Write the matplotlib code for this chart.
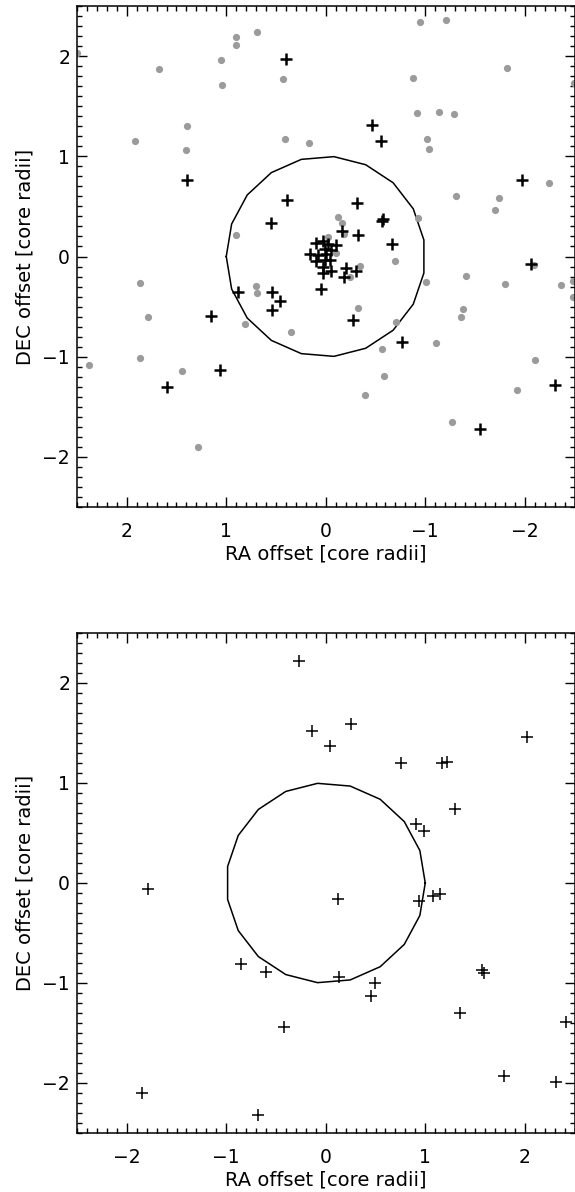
import numpy as np
import matplotlib
matplotlib.use("Agg")
import matplotlib.pyplot as plt
from matplotlib.ticker import MultipleLocator, FuncFormatter

plt.rcParams['font.family'] = ['DejaVu Sans']

# ---- Top panel data ----
top_gray_ra = [2.50, 1.674, 0.907, 0.897, 0.686, 1.054, 0.432, 1.041, 1.399, 1.921, 1.406, 0.405, 0.171, 0.897,
               -0.947, -1.205, -1.817, -2.49, -0.88, -0.92, -1.142, -1.285, -1.017, -1.034, -2.239, -1.312,
               -1.744, -1.70, -0.924, -0.124, -0.167, -0.184, -0.02, -0.107, -0.693,
               1.864, 1.79, 1.867, 2.376, 1.443, 1.282, 0.703, 0.686, 0.81, 0.351,
               -0.341, -0.241, -1.011, -1.406, -1.804, -2.092, -2.36, -2.483, -2.483, -0.321, -1.383,
               -1.355, -0.703, -1.111, -0.569, -2.102, -0.586, -0.395, -1.925, -1.272]
top_gray_dec = [2.03, 1.873, 2.19, 2.113, 2.243, 1.963, 1.767, 1.713, 1.307, 1.15, 1.063, 1.177, 1.133, 0.217,
                2.343, 2.363, 1.877, 1.727, 1.777, 1.433, 1.44, 1.427, 1.177, 1.07, 0.733, 0.603,
                0.58, 0.467, 0.383, 0.39, 0.33, 0.227, 0.19, 0.037, -0.04,
                -0.26, -0.60, -1.013, -1.087, -1.143, -1.903, -0.293, -0.36, -0.67, -0.753,
                -0.097, -0.20, -0.253, -0.19, -0.273, -0.08, -0.287, -0.24, -0.407, -0.51, -0.527,
                -0.607, -0.657, -0.867, -0.927, -1.03, -1.193, -1.38, -1.33, -1.647]

top_plus_ra = [0.395, 1.399, 0.392, 0.552,
               -0.465, -0.555, -1.968, -0.314, -0.575, -0.562, -0.161, -0.324, -0.67,
               0.88, 0.539, 0.459, 0.542, 1.152, 1.061, 1.593, 0.05,
               -2.058, -0.274, -0.766, -2.306, -1.549,
               0.10, 0.027, -0.023, -0.10, 0.01, -0.057, 0.154, 0.077, -0.007, 0.093, 0.01,
               -0.047, 0.027, -0.057, 0.027, -0.208, -0.308, -0.181]
top_plus_dec = [1.967, 0.763, 0.567, 0.333,
                1.317, 1.15, 0.763, 0.533, 0.37, 0.353, 0.253, 0.213, 0.123,
                -0.357, -0.35, -0.443, -0.537, -0.597, -1.13, -1.30, -0.32,
                -0.073, -0.63, -0.85, -1.287, -1.723,
                0.133, 0.153, 0.12, 0.11, 0.077, 0.06, 0.027, 0.01, 0.02, -0.047, -0.033,
                -0.033, -0.107, -0.147, -0.167, -0.113, -0.14, -0.20]

# ---- Bottom panel data ----
bot_plus_ra = [-0.271, -0.134, 0.251, 0.047, 0.753, 1.171, 1.218, 2.018, 1.302, 0.904, 0.987,
               -1.787, -0.853, -0.605, -0.419, -1.844, -0.68,
               0.124, 0.937, 1.077, 1.145, 0.134, 0.492, 0.452, 1.569, 1.586, 1.345, 2.41, 1.79, 2.316]
bot_plus_dec = [2.22, 1.52, 1.587, 1.373, 1.197, 1.203, 1.213, 1.463, 0.74, 0.59, 0.523,
                -0.063, -0.807, -0.887, -1.443, -2.103, -2.32,
                -0.163, -0.177, -0.13, -0.11, -0.943, -1.003, -1.13, -0.87, -0.897, -1.303, -1.387, -1.927, -1.987]

core_radius = 1.0
n_circle = 20

xlabel = "RA offset [core radii]"
ylabel = "DEC offset [core radii]"

W, H = 575, 1192
fig = plt.figure(figsize=(W / 100, H / 100), dpi=100)

ax1 = fig.add_axes([77 / W, (H - 507) / H, 497.5 / W, 501 / H])
ax2 = fig.add_axes([77 / W, (H - 1133) / H, 497.5 / W, 500 / H])

theta = np.arange(n_circle) * 2 * np.pi / (n_circle - 1)
cx = core_radius * np.cos(theta)
cy = core_radius * np.sin(theta)

# top panel
ax1.plot(top_gray_ra, top_gray_dec, 'o', color='#9b9b9b', markersize=5.2, markeredgewidth=0, zorder=2)
ax1.plot(top_plus_ra, top_plus_dec, '+', color='black', markersize=9, markeredgewidth=1.8, zorder=3)
ax1.plot(cx, cy, '-', color='black', linewidth=1.1, zorder=1)
ax1.set_xlim(2.5, -2.5)
ax1.set_ylim(-2.5, 2.5)

# bottom panel
ax2.plot(bot_plus_ra, bot_plus_dec, '+', color='black', markersize=8.5, markeredgewidth=1.1, zorder=3)
ax2.plot(cx, cy, '-', color='black', linewidth=1.1, zorder=1)
ax2.set_xlim(-2.5, 2.5)
ax2.set_ylim(-2.5, 2.5)

fmt = FuncFormatter(lambda v, p: ('\u2212' if v < -0.01 else '') + '%d' % abs(round(v)))

for ax in (ax1, ax2):
    ax.xaxis.set_major_locator(MultipleLocator(1))
    ax.yaxis.set_major_locator(MultipleLocator(1))
    ax.xaxis.set_minor_locator(MultipleLocator(0.1))
    ax.yaxis.set_minor_locator(MultipleLocator(0.1))
    ax.tick_params(which='both', direction='in', top=True, right=True, width=1.0, color='black')
    ax.tick_params(which='major', length=7.5)
    ax.tick_params(which='minor', length=3.8)
    ax.tick_params(axis='x', which='major', pad=11, labelsize=13.5)
    ax.tick_params(axis='y', which='major', pad=5, labelsize=13.5)
    for s in ax.spines.values():
        s.set_linewidth(1.1)
    ax.set_xlabel(xlabel, fontsize=14, labelpad=2)
    ax.set_ylabel(ylabel, fontsize=14, labelpad=6)
    ax.xaxis.set_major_formatter(fmt)
    ax.yaxis.set_major_formatter(fmt)

fig.savefig('out.png', dpi=100)
